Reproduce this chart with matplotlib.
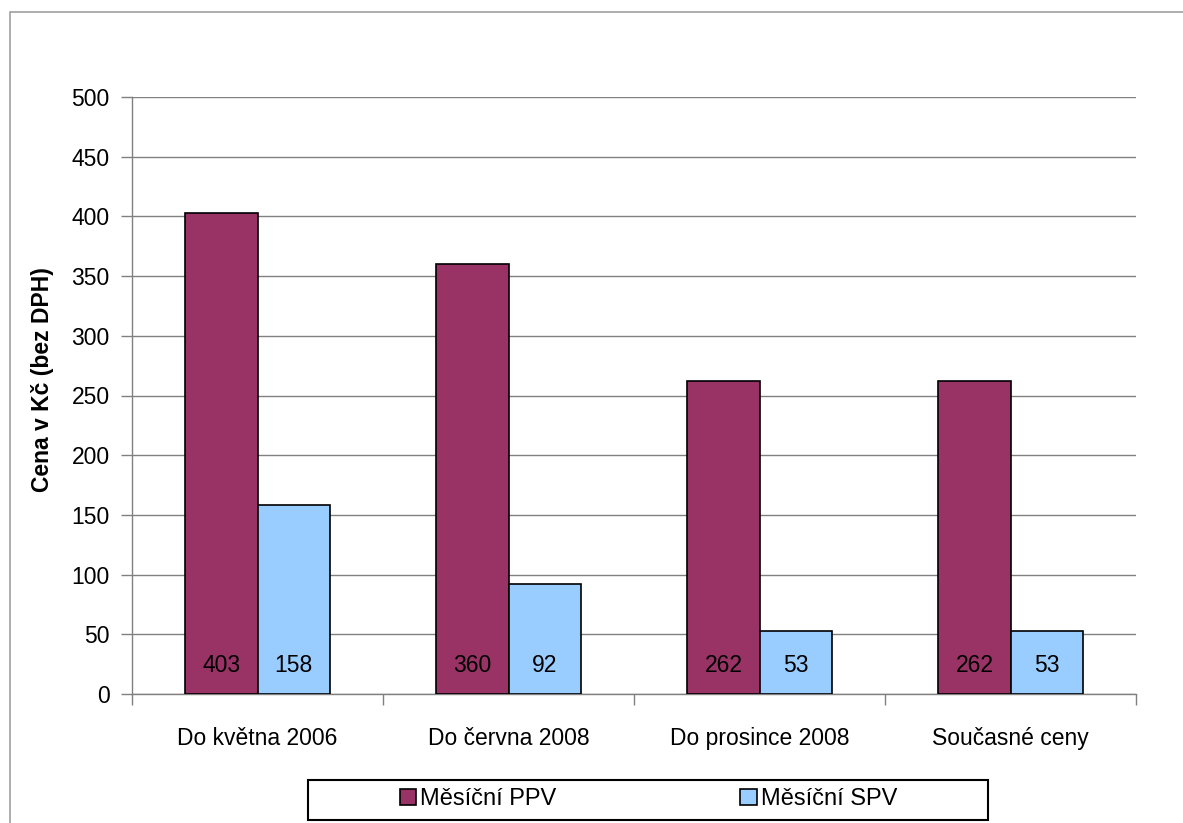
import matplotlib.pyplot as plt
import numpy as np
from matplotlib.patches import Rectangle

categories = ["Do května 2006", "Do června 2008", "Do prosince 2008", "Současné ceny"]
ppv = [403, 360, 262, 262]
spv = [158, 92, 53, 53]
series_names = ["Měsíční PPV", "Měsíční SPV"]
y_ticks = [0, 50, 100, 150, 200, 250, 300, 350, 400, 450, 500]

plt.rcParams["font.family"] = ["Liberation Sans", "DejaVu Sans"]

W, H = 1183, 823
fig = plt.figure(figsize=(W / 100, H / 100), dpi=100)

# outer chart frame (runs off the right and bottom edge)
fig.patches.append(Rectangle((10 / W, 1 - 1000 / H), 1300 / W, 988 / H,
                             transform=fig.transFigure, fill=False,
                             edgecolor="#a0a0a0", linewidth=1.2))

ax = fig.add_axes([132 / W, 1 - 694 / H, (1136 - 132) / W, (694 - 97) / H])

x = np.arange(len(categories))
width = 0.287
gray = "#808080"

b1 = ax.bar(x - width / 2, ppv, width, color="#993366", edgecolor="black",
            linewidth=1.2, zorder=3, label=series_names[0])
b2 = ax.bar(x + width / 2, spv, width, color="#99ccff", edgecolor="black",
            linewidth=1.2, zorder=3, label=series_names[1])

for bars, vals in ((b1, ppv), (b2, spv)):
    for rect, v in zip(bars, vals):
        ax.text(rect.get_x() + rect.get_width() / 2, 24, str(v),
                ha="center", va="center", fontsize=16.5, zorder=4)

ax.set_xlim(-0.5, len(categories) - 0.5)
ax.set_ylim(0, 500)
ax.set_yticks(y_ticks)
ax.set_yticklabels([str(t) for t in y_ticks], fontsize=16.5)
ax.yaxis.grid(True, color=gray, linewidth=1.0, zorder=0)

ax.set_xticks(x)
ax.set_xticklabels(categories, fontsize=16.5)
ax.set_xticks(np.arange(len(categories) + 1) - 0.5, minor=True)
ax.tick_params(axis="x", which="major", length=0, pad=24)
ax.tick_params(axis="x", which="minor", length=8, color=gray, width=1.0)
ax.tick_params(axis="y", length=8, color=gray, width=1.0, pad=8)

for side in ("top", "right"):
    ax.spines[side].set_visible(False)
for side in ("left", "bottom"):
    ax.spines[side].set_color(gray)
    ax.spines[side].set_linewidth(1.0)

ax.set_ylabel("Cena v Kč (bez DPH)", fontsize=16.5, fontweight="bold",
              va="center")
ax.yaxis.set_label_coords(-0.0896, 0.526)

# legend box
fig.patches.append(Rectangle((308 / W, 1 - 820 / H), (988 - 308) / W, 40 / H,
                             transform=fig.transFigure, fill=False,
                             edgecolor="black", linewidth=1.5))
fig.legend(handles=[b1, b2], loc="center left",
           bbox_to_anchor=(400 / W, 1 - 799 / H), ncol=2, frameon=False,
           fontsize=17, handlelength=0.68, handleheight=0.68,
           handletextpad=0.17, columnspacing=7.8, borderpad=0,
           borderaxespad=0)

fig.savefig("out.png", dpi=100)
